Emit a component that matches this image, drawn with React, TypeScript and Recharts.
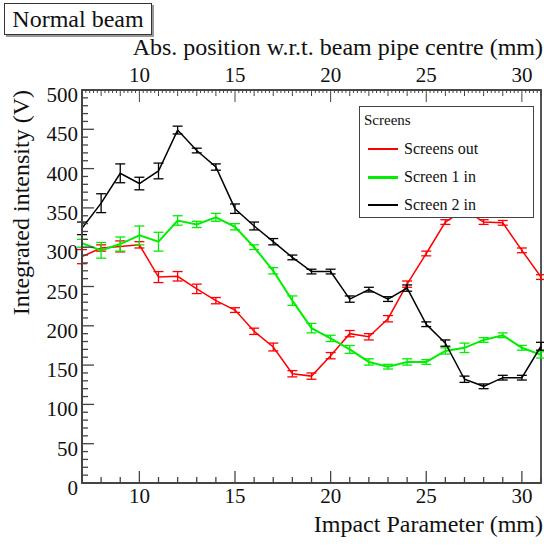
import React from "react";
import {
  LineChart,
  Line,
  XAxis,
  YAxis,
  ErrorBar,
  ReferenceArea,
} from "recharts";

// impact parameter (mm)
const impact = [7, 8, 9, 10, 11, 12, 13, 14, 15, 16, 17, 18, 19, 20, 21, 22, 23, 24, 25, 26, 27, 28, 29, 30, 31];

const screensOut = [288, 299, 301, 303, 262, 263, 247, 232, 220, 193, 173, 139, 136, 162, 190, 186, 209, 253, 292, 332, 348, 332, 331, 296, 262];
const screensOutErr = [9, 4, 7, 4, 7, 6, 6, 4, 3, 4, 5, 4, 4, 4, 4, 4, 4, 4, 3, 3, 3, 3, 3, 3, 3];

const screen1 = [305, 296, 304, 315, 307, 334, 329, 338, 326, 300, 270, 232, 197, 184, 170, 154, 148, 154, 154, 168, 172, 182, 188, 172, 163];
const screen1Err = [5, 10, 9, 12, 12, 6, 4, 5, 4, 3, 4, 6, 6, 4, 5, 4, 3, 4, 3, 4, 6, 3, 3, 3, 4];

const screen2 = [324, 356, 394, 381, 397, 449, 423, 402, 349, 327, 307, 287, 269, 269, 234, 246, 234, 248, 202, 178, 132, 123, 134, 134, 174];
const screen2Err = [8, 12, 12, 8, 10, 5, 3, 4, 6, 5, 4, 3, 3, 3, 4, 3, 3, 4, 3, 4, 4, 3, 3, 3, 5];

const bottomTicks = impact;
const labelTicks = [10, 15, 20, 25, 30];
const topTicks = Array.from({ length: 121 }, (_, i) => Math.round((7 + i * 0.2) * 10) / 10);
const yTicks = Array.from({ length: 51 }, (_, i) => i * 10);

const data = impact.map((x, i) => ({
  x,
  out: screensOut[i],
  outErr: screensOutErr[i],
  s1: screen1[i],
  s1Err: screen1Err[i],
  s2: screen2[i],
  s2Err: screen2Err[i],
}));

const FONT = "'Liberation Serif', 'DejaVu Serif', serif";
const AXIS = "#444";
const txt = { fontFamily: FONT, fill: "#111" };

const BottomTick = (props: any) => {
  const { x, y, payload } = props;
  const v = payload.value;
  const major = labelTicks.includes(v);
  return (
    <g>
      <line x1={x} x2={x} y1={y} y2={y - (major ? 12 : 6)} stroke={AXIS} strokeWidth={1.3} />
      {major && (
        <text x={x} y={y + 20} textAnchor="middle" fontSize={21} style={txt}>
          {v}
        </text>
      )}
    </g>
  );
};

const TopTick = (props: any) => {
  const { x, y, payload } = props;
  const v = payload.value;
  const major = labelTicks.includes(v);
  const unit = Math.abs(v - Math.round(v)) < 1e-6;
  const len = major ? 12 : unit ? 6 : 3;
  return (
    <g>
      <line x1={x} x2={x} y1={y} y2={y + len} stroke={AXIS} strokeWidth={1} />
      {major && (
        <text x={x} y={y - 8} textAnchor="middle" fontSize={21} style={txt}>
          {v}
        </text>
      )}
    </g>
  );
};

const LeftTick = (props: any) => {
  const { x, y, payload } = props;
  const v = payload.value;
  const major = v % 50 === 0;
  return (
    <g>
      <line x1={x} x2={x + (major ? 12 : 6)} y1={y} y2={y} stroke={AXIS} strokeWidth={1.3} />
      {major && (
        <text x={x - 4} y={y + 12} textAnchor="end" fontSize={21} style={txt}>
          {v}
        </text>
      )}
    </g>
  );
};

export default function App() {
  return (
    <div
      style={{
        position: "absolute",
        left: 0,
        top: 0,
        width: 544,
        height: 547,
        background: "#fff",
        fontFamily: FONT,
      }}
    >
      <LineChart
        width={544}
        height={547}
        data={data}
        margin={{ top: 0, right: 3, left: 0, bottom: 0 }}
        style={{ fontFamily: FONT }}
      >
        <XAxis
          xAxisId="bottom"
          dataKey="x"
          type="number"
          domain={[7, 31]}
          ticks={bottomTicks}
          interval={0}
          tickSize={0}
          tickMargin={0}
          tick={BottomTick}
          height={64}
          stroke={AXIS}
          strokeWidth={2}
          allowDataOverflow
          label={{
            content: (p: any) => (
              <text
                x={p.viewBox.x + p.viewBox.width + 2}
                y={p.viewBox.y + 49}
                textAnchor="end"
                fontSize={24}
                style={txt}
              >
                Impact Parameter (mm)
              </text>
            ),
          }}
        />
        <XAxis
          xAxisId="top"
          orientation="top"
          dataKey="x"
          type="number"
          domain={[7, 31]}
          ticks={topTicks}
          interval={0}
          tickSize={0}
          tickMargin={0}
          tick={TopTick}
          height={90}
          stroke={AXIS}
          strokeWidth={1.5}
          allowDataOverflow
          label={{
            content: (p: any) => (
              <text
                x={p.viewBox.x + p.viewBox.width + 2}
                y={p.viewBox.y + 55}
                textAnchor="end"
                fontSize={24}
                style={txt}
              >
                Abs. position w.r.t. beam pipe centre (mm)
              </text>
            ),
          }}
        />
        <YAxis
          type="number"
          domain={[0, 500]}
          ticks={yTicks}
          interval={0}
          tickSize={0}
          tickMargin={0}
          tick={LeftTick}
          width={82}
          stroke={AXIS}
          strokeWidth={2}
          allowDataOverflow
          label={{
            content: (p: any) => {
              const tx = p.viewBox.x + 29;
              const ty = p.viewBox.y;
              return (
                <text
                  x={tx}
                  y={ty}
                  transform={`rotate(-90 ${tx} ${ty})`}
                  textAnchor="end"
                  fontSize={24}
                  style={txt}
                >
                  Integrated intensity (V)
                </text>
              );
            },
          }}
        />
        <ReferenceArea
          xAxisId="bottom"
          x1={7}
          x2={31}
          y1={0}
          y2={500}
          fill="none"
          stroke="#555"
          strokeWidth={2}
        />
        <Line
          xAxisId="top"
          dataKey="out"
          stroke="none"
          dot={false}
          legendType="none"
          isAnimationActive={false}
        />
        <Line
          xAxisId="bottom"
          dataKey="out"
          stroke="#ff0000"
          strokeWidth={1.5}
          dot={false}
          isAnimationActive={false}
        >
          <ErrorBar dataKey="outErr" direction="y" width={5} stroke="#ff0000" strokeWidth={1.3} />
        </Line>
        <Line
          xAxisId="bottom"
          dataKey="s1"
          stroke="#00ee00"
          strokeWidth={2}
          dot={false}
          isAnimationActive={false}
        >
          <ErrorBar dataKey="s1Err" direction="y" width={5} stroke="#00ee00" strokeWidth={1.3} />
        </Line>
        <Line
          xAxisId="bottom"
          dataKey="s2"
          stroke="#000"
          strokeWidth={1.5}
          dot={false}
          isAnimationActive={false}
        >
          <ErrorBar dataKey="s2Err" direction="y" width={5} stroke="#000" strokeWidth={1.3} />
        </Line>
      </LineChart>

      <div
        style={{
          position: "absolute",
          left: 4,
          top: 3,
          width: 146,
          height: 30,
          border: "1px solid #333",
          boxShadow: "2px 2px 0 #999",
          background: "#fff",
          fontSize: 24,
          lineHeight: "30px",
          textAlign: "center",
          color: "#111",
        }}
      >
        Normal beam
      </div>

      <div
        style={{
          position: "absolute",
          left: 359,
          top: 106,
          width: 173,
          height: 110,
          border: "1px solid #444",
          background: "#fff",
          color: "#111",
        }}
      >
        <div style={{ position: "absolute", left: 4, top: 5, fontSize: 15 }}>Screens</div>
        {[
          { name: "Screens out", color: "#ff0000", w: 1.2 },
          { name: "Screen 1 in", color: "#00ee00", w: 3 },
          { name: "Screen 2 in", color: "#000", w: 1.2 },
        ].map((e, i) => (
          <div
            key={e.name}
            style={{ position: "absolute", left: 8, top: 32 + i * 28, height: 20, display: "flex", alignItems: "center" }}
          >
            <div style={{ width: 30, height: e.w, background: e.color }} />
            <span style={{ marginLeft: 6, fontSize: 16 }}>{e.name}</span>
          </div>
        ))}
      </div>
    </div>
  );
}
